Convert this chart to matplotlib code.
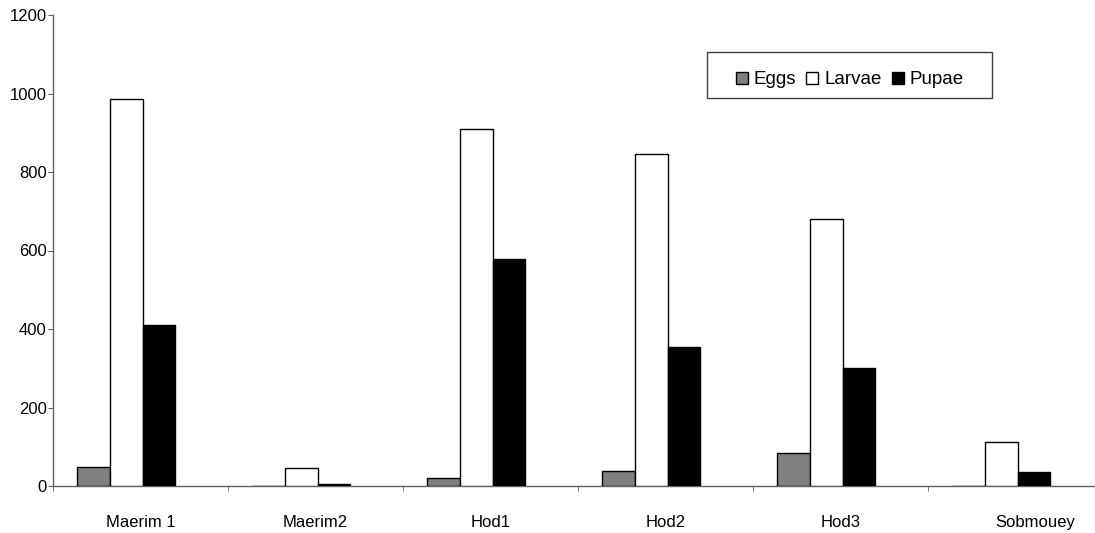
import matplotlib
matplotlib.use("Agg")
import matplotlib.pyplot as plt
import matplotlib.transforms as mtransforms
from matplotlib.patches import Rectangle
import numpy as np

plt.rcParams['font.family'] = ['Liberation Sans', 'DejaVu Sans']

sites = ["Maerim 1", "Maerim2", "Hod1", "Hod2", "Hod3", "Sobmouey"]
eggs = [48, 0, 20, 38, 84, 0]
larvae = [987, 46, 910, 845, 680, 112]
pupae = [409, 5, 579, 353, 300, 36]
series_names = ["Eggs", "Larvae", "Pupae"]
y_ticks = [0, 200, 400, 600, 800, 1000, 1200]

W, H = 1095, 533
fig = plt.figure(figsize=(W / 100, H / 100), dpi=100)
left, bottom, top = 53, 486, 15
width = 1050
ax = fig.add_axes([left / W, (H - bottom) / H, width / W, (bottom - top) / H])

x = np.arange(len(sites))
w = 0.187
colors = ["#808080", "#ffffff", "#000000"]
handles = []
for k, (vals, c, name) in enumerate(zip([eggs, larvae, pupae], colors, series_names)):
    # four slots per category; the fourth one stays empty
    b = ax.bar(x + (k - 1.5) * w + 0.012, vals, width=w, color=c,
               edgecolor="black", linewidth=1.0, label=name, zorder=3)
    handles.append(b)

ax.set_xlim(-0.5, len(sites) - 0.5)
ax.set_ylim(0, 1200)
ax.set_yticks(y_ticks)
ax.set_yticklabels([str(t) for t in y_ticks])

# category labels at centres, tick marks at category boundaries
ax.set_xticks(x)
ax.set_xticklabels(sites)
ax.tick_params(axis="x", which="major", length=0, pad=21, labelsize=12)
ax.set_xticks(np.arange(len(sites) + 1) - 0.5, minor=True)
ax.tick_params(axis="x", which="minor", length=3.6, direction="out", color="#606060")
ax.tick_params(axis="y", length=3.6, direction="out", color="#606060", labelsize=12, pad=1)

# shift the last category label so it stays inside the canvas
last = ax.get_xticklabels()[-1]
last.set_transform(last.get_transform() + mtransforms.ScaledTranslation(20 / 100, 0, fig.dpi_scale_trans))

for s in ["top", "right"]:
    ax.spines[s].set_visible(False)
for s in ["left", "bottom"]:
    ax.spines[s].set_color("#606060")
    ax.spines[s].set_linewidth(1.0)

# legend box
fig.patches.append(Rectangle((707 / W, 1 - 98 / H), (992 - 707) / W, 46 / H,
                             transform=fig.transFigure, facecolor="white",
                             edgecolor="#404040", linewidth=1.0, zorder=5))
leg = fig.legend(handles=handles, labels=series_names, loc="center left",
                 bbox_to_anchor=(736 / W, 1 - 80 / H), ncol=3, frameon=False,
                 fontsize=13.5, handlelength=0.64, handleheight=0.64,
                 handletextpad=0.3, columnspacing=0.55, borderpad=0,
                 borderaxespad=0)
leg.set_zorder(6)

fig.savefig("out.png", dpi=100)
